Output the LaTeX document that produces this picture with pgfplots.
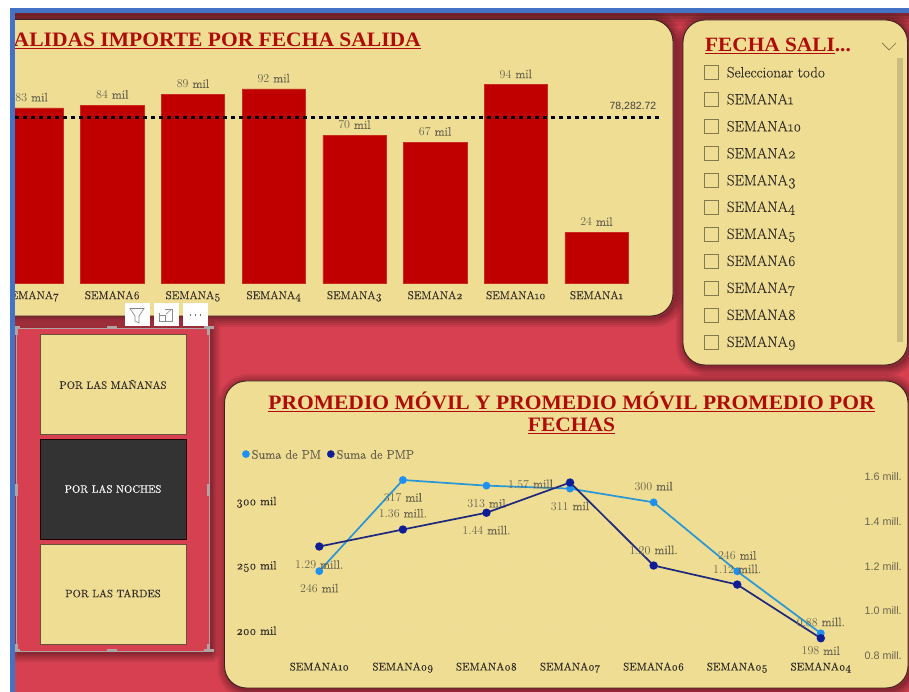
\documentclass[border=0pt]{standalone}
\usepackage{fontspec}
\setmainfont{Latin Modern Roman}[Numbers=OldStyle,FakeBold=0.12]
\newfontfamily\boldt{Liberation Serif Bold}[FakeStretch=1.05]
\newfontfamily\sansf{Liberation Sans}
\usepackage{pgfplots}
\usepackage{pgfplotstable}
\pgfplotsset{compat=1.18}
\definecolor{bgred}{RGB}{214,64,80}
\definecolor{panel}{RGB}{238,221,146}
\definecolor{titlered}{RGB}{176,10,10}
\definecolor{barred}{RGB}{192,0,0}
\definecolor{edge}{RGB}{60,35,30}
\definecolor{lab}{RGB}{105,100,80}
\definecolor{txt}{RGB}{50,45,40}
\definecolor{pmline}{RGB}{40,150,215}
\definecolor{pmmark}{RGB}{30,145,240}
\definecolor{pmpline}{RGB}{30,40,125}
\definecolor{pmpmark}{RGB}{15,30,150}
\definecolor{blueb}{RGB}{68,114,196}
\definecolor{hand}{RGB}{175,165,165}
\newcommand{\shadowed}[5]{% x1 y1 x2 y2 r
  \foreach \w/\o in {18/0.07,14/0.07,10/0.08,6/0.09,3/0.10}{
    \draw[black,opacity=\o,line width=\w pt,rounded corners=#5 pt] (#1+2,#2+2) rectangle (#3+2,#4+2);}
}
\newcommand{\panel}[5]{%
  \shadowed{#1}{#2}{#3}{#4}{#5}
  \draw[fill=panel,draw=edge,line width=0.9pt,rounded corners=#5 pt] (#1,#2) rectangle (#3,#4);
}
\pgfplotstableread{
x y
0 83.0
1 84.3
2 89.4
3 92.0
4 70.0
5 66.8
6 94.0
7 24.2
}\salidas
\pgfplotstableread{
x y dx dy
0 246.4 0 -17
1 317.4 0 -17.3
2 313.0 0 -17.6
3 310.7 0 -17.3
4 300.0 0 16.3
5 246.3 0 16
6 198.0 0 -17.4
}\pmdata
\pgfplotstableread{
x y dx dy
0 1.288 0 -18
1 1.364 0 16.3
2 1.439 0 -17.4
3 1.574 -37.8 -1.3
4 1.203 0 15.7
5 1.118 0 15.7
6 0.878 0 16.4
}\pmpdata
\begin{document}
\begin{tikzpicture}
\useasboundingbox (0pt,0pt) rectangle (909pt,692pt);
\begin{scope}[x=1pt,y=-1pt,shift={(0pt,692pt)}]
  \fill[bgred] (0,0) rectangle (909,692);
  % top darkening
  \foreach \a/\o in {13/0.18,16/0.15,19/0.12,22/0.10,26/0.08}{
    \fill[black,opacity=\o] (0,0) rectangle (909,\a);}
  \panel{-30}{19.5}{673}{316}{22}
  \panel{683}{20}{907.5}{365}{22}
  \panel{224.5}{381}{908}{688}{22}
  % button frame shadow
  \shadowed{16}{328}{209}{651}{1}
  \fill[bgred] (16,328) rectangle (209,651);
  \draw[hand,line width=0.8pt] (16,328) rectangle (209,651);
  \foreach \a/\b in {15/328,209/328,15/651,209/651,112/328,112/651}{
    \fill[hand] (\a-5,\b-1.5) rectangle (\a+5,\b+1.5);}
  \foreach \a/\b in {16/490,208/490}{
    \fill[hand] (\a-1.5,\b-6) rectangle (\a+1.5,\b+6);}
  \foreach \a/\b in {16/331,208/331,16/648,208/648}{
    \fill[hand] (\a-1.5,\b-4) rectangle (\a+1.5,\b+4);}
  % buttons
  \draw[fill=panel,draw=edge!75!panel,line width=1pt] (40,335) rectangle (186,435);
  \draw[fill=black!80,draw=black!90!red,line width=1pt] (40,440) rectangle (186,539.5);
  \draw[fill=panel,draw=edge!75!panel,line width=1pt] (40,544.5) rectangle (186,644.5);
  \node[font=\fontsize{10.7}{11}\selectfont,text=txt] at (113,384.5) {POR LAS MAÑANAS};
  \node[font=\fontsize{10.7}{11}\selectfont,text=white] at (113,489) {POR LAS NOCHES};
  \node[font=\fontsize{10.7}{11}\selectfont,text=txt] at (113,593.5) {POR LAS TARDES};
  % header icons
  \foreach \a in {125,154,183}{\fill[white] (\a,303) rectangle (\a+24.5,326);}
  \draw[black!50,line width=0.6pt] (130,308.5) -- (144,308.5) -- (139,316) -- (139,323) -- (135,321) -- (135,316) -- cycle;
  \draw[black!45,line width=0.6pt] (159,313) -- (159,321) -- (172,321) -- (172,309) -- (165,309);
  \draw[black!45,line width=0.6pt] (165,321) -- (165,315) -- (159,315);
  \draw[black!45,line width=0.6pt] (166,314) -- (172,309);
  \foreach \a in {190.5,195.5,200.5}{\fill[black!55] (\a-0.8,314.2) rectangle (\a+0.8,315.6);}
  % panel titles
  \node[anchor=east,font=\boldt\fontsize{20.5}{20.5}\selectfont,text=titlered,inner sep=0pt] at (421,41) {\underline{SALIDAS IMPORTE POR FECHA SALIDA}};
  \node[font=\boldt\fontsize{20.5}{20.5}\selectfont,text=titlered,inner sep=0pt] at (571.5,402) {\underline{PROMEDIO MÓVIL Y PROMEDIO MÓVIL PROMEDIO POR}};
  \node[font=\boldt\fontsize{20.5}{20.5}\selectfont,text=titlered,inner sep=0pt] at (571.5,426) {\underline{FECHAS}};
  % slicer
  \node[anchor=west,font=\boldt\fontsize{20.3}{20}\selectfont,text=titlered,inner sep=0pt] at (705,45.5) {\underline{FECHA SALI}...};
  \draw[black!50!panel,line width=0.7pt] (882,43) -- (889,50) -- (896,43);
  \fill[black!15!panel] (896.7,58.3) rectangle (903.3,342.3);
  \foreach \yy/\itm in {72.7/Seleccionar todo,99.7/SEMANA1,126.7/SEMANA10,153.7/SEMANA2,180.7/SEMANA3,207.3/SEMANA4,234.3/SEMANA5,261.3/SEMANA6,288.3/SEMANA7,315.3/SEMANA8,342.3/SEMANA9}{
    \draw[black!45!panel,line width=0.8pt] (704,\yy-7) rectangle (718.5,\yy+7);
    \node[anchor=base west,inner sep=0pt,font=\fontsize{15}{15}\selectfont,text=txt] at (726.7,\yy+4.7) {\itm};
  }
\end{scope}

% bar chart
\begin{axis}[
  at={(15pt,408.5pt)},anchor=south west,
  scale only axis,width=645pt,height=211.5pt,
  xmin=-0.206,xmax=7.787,ymin=0,ymax=100,
  axis line style={draw=none},major tick length=0pt,
  ytick=\empty,
  xtick={0,...,7},
  xticklabels={SEMANA7,SEMANA6,SEMANA5,SEMANA4,SEMANA3,SEMANA2,SEMANA10,SEMANA1},
  xticklabel style={font=\fontsize{11.3}{11}\selectfont,text=txt,yshift=-4pt},
  clip=false,
]
\addplot[ybar,bar width=63.3pt,bar shift=0pt,fill=barred,draw=barred!80!panel,line width=0.4pt,
  nodes near coords={\pgfmathprintnumber[fixed,precision=0]{\pgfplotspointmeta} mil},
  every node near coord/.append style={font=\fontsize{12.2}{12}\selectfont,text=lab,yshift=3pt}]
  table[x=x,y=y]{\salidas};
\addplot[black,line width=3pt,dash pattern=on 4.4pt off 3.6pt,forget plot] coordinates {(-0.206,78.28)(7.787,78.28)};
\node[font=\sansf\fontsize{10.5}{10.5}\selectfont,text=black!75] at (axis cs:7.452,83.67) {78,282.72};
\end{axis}

% line chart: left axis
\begin{axis}[
  at={(280pt,32pt)},anchor=south west,
  scale only axis,width=581pt,height=190pt,
  xmin=-0.470,xmax=6.481,ymin=177.2,ymax=325.2,
  axis line style={draw=none},major tick length=0pt,
  xtick={0,...,6},
  xticklabels={SEMANA10,SEMANA09,SEMANA08,SEMANA07,SEMANA06,SEMANA05,SEMANA04},
  xticklabel style={font=\fontsize{11}{11}\selectfont,text=txt,yshift=1pt},
  ytick={200,250,300},yticklabels={200 mil,250 mil,300 mil},
  yticklabel style={font=\fontsize{12}{12}\selectfont,text=txt},
  ymajorgrids,grid style={panel!92!white,dashed,line width=0.6pt},
  clip=false,
  legend style={draw=none,fill=none,at={(-0.0655,1.04)},anchor=south west,legend columns=2,
    font=\fontsize{12.4}{12}\selectfont,text=lab,inner sep=0pt,
    /tikz/every even column/.append style={column sep=4pt}},
  legend cell align=left,
]
\addplot[pmline,line width=1.7pt,mark=*,mark size=3pt,mark options={draw=pmmark,fill=pmmark},forget plot,
  visualization depends on={\thisrow{dx} \as \dxv},
  visualization depends on={\thisrow{dy} \as \dyv},
  nodes near coords={\pgfmathprintnumber[fixed,precision=0]{\pgfplotspointmeta} mil},
  every node near coord/.append style={anchor=center,xshift=\dxv,yshift=\dyv,font=\fontsize{12.2}{12}\selectfont,text=lab}]
  table[x=x,y=y]{\pmdata};
\addlegendimage{legend image code/.code={\fill[pmmark] (0pt,1pt) circle (3.6pt);}}
\addlegendimage{legend image code/.code={\fill[pmpmark] (0pt,1pt) circle (3.6pt);}}
\legend{Suma de PM,Suma de PMP}
\end{axis}

% line chart: right axis
\begin{axis}[
  at={(280pt,32pt)},anchor=south west,
  scale only axis,width=581pt,height=190pt,
  xmin=-0.470,xmax=6.481,ymin=0.7808,ymax=1.63,
  axis x line=none,axis y line*=right,
  axis line style={draw=none},major tick length=0pt,
  ytick={0.8,1.0,1.2,1.4,1.6},yticklabels={0.8 mill.,1.0 mill.,1.2 mill.,1.4 mill.,1.6 mill.},
  yticklabel style={font=\sansf\fontsize{10.8}{11}\selectfont,text=lab},
  clip=false,
]
\addplot[pmpline,line width=1.7pt,mark=*,mark size=3.3pt,mark options={draw=pmpmark,fill=pmpmark},
  visualization depends on={\thisrow{dx} \as \dxv},
  visualization depends on={\thisrow{dy} \as \dyv},
  nodes near coords={\pgfmathprintnumber[fixed,fixed zerofill,precision=2]{\pgfplotspointmeta} mill.},
  every node near coord/.append style={anchor=center,xshift=\dxv,yshift=\dyv,font=\fontsize{12.2}{12}\selectfont,text=lab}]
  table[x=x,y=y]{\pmpdata};
\end{axis}

% left and top window edge over everything
\begin{scope}[x=1pt,y=-1pt,shift={(0pt,692pt)}]
  \fill[white] (0,0) rectangle (909,8);
  \fill[white] (0,0) rectangle (10,692);
  \fill[blueb] (10,8) rectangle (909,13.5);
  \fill[blueb] (10,8) rectangle (15,692);
\end{scope}
\end{tikzpicture}
\end{document}
